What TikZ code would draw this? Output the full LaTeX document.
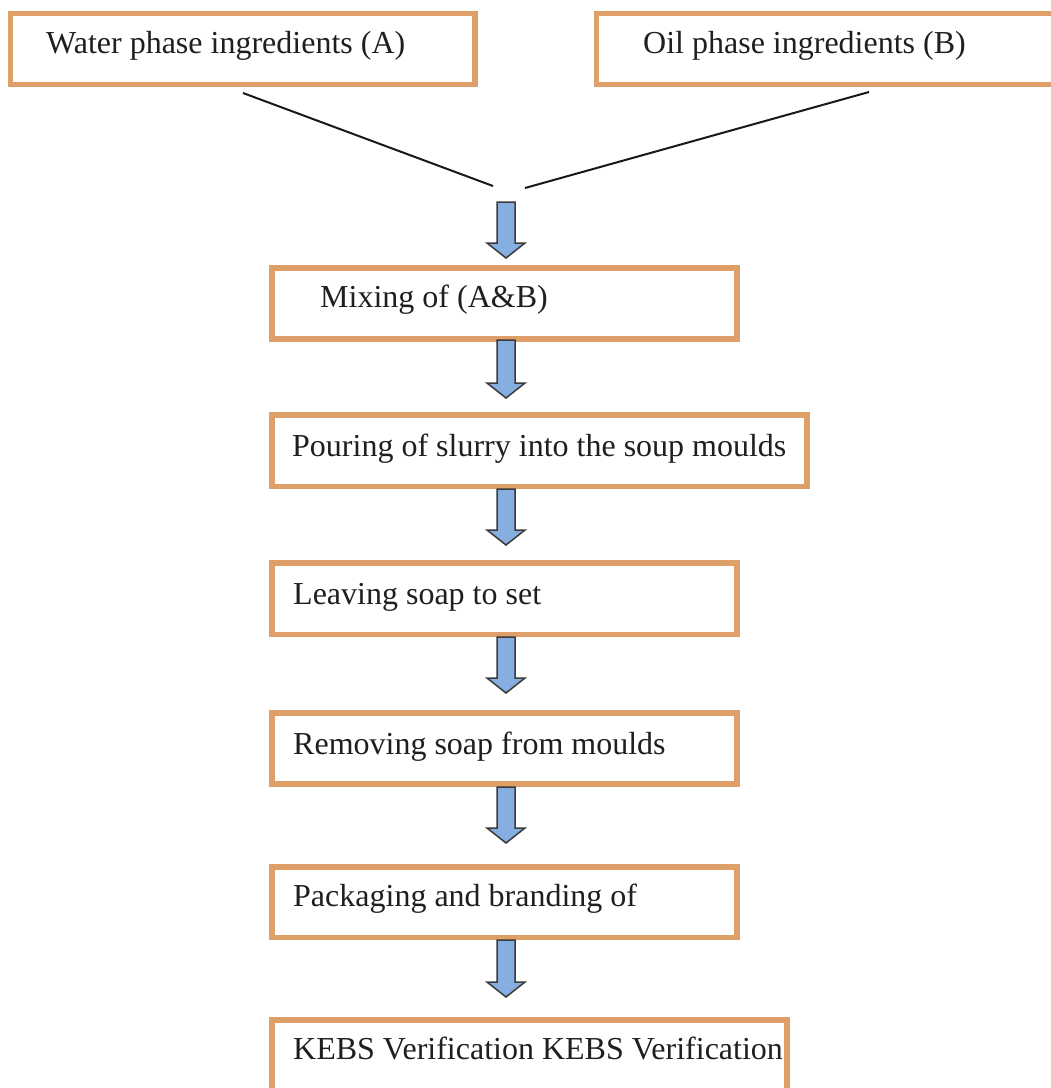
\documentclass[tikz,border=0pt]{standalone}
\usepackage{fontspec}
\setmainfont{Liberation Serif}
\definecolor{boxorange}{HTML}{DF9F68}
\definecolor{arrowblue}{HTML}{86AEE0}
\definecolor{arrowline}{HTML}{3A3A3A}
\newcommand{\blockarrow}[3]{% x, top, tip
  \draw[barrow] (#1-9,#2) -- (#1+9,#2) -- (#1+9,#3-15) -- (#1+19,#3-15) -- (#1,#3) -- (#1-19,#3-15) -- (#1-9,#3-15) -- cycle;}
\begin{document}
\begin{tikzpicture}[x=1pt,y=-1pt,
  box/.style={draw=boxorange, line width=5.5pt, inner sep=0pt, outer sep=0pt, anchor=north west},
  lbl/.style={anchor=base west, inner sep=0pt, text=black!88, font=\fontsize{32}{38}\selectfont},
  barrow/.style={draw=arrowline, fill=arrowblue, line width=1.5pt, line join=miter},
  conn/.style={draw=black!90, line width=2pt}]
\fill[white] (0,0) rectangle (1051,1088);
\clip (0,0) rectangle (1051,1088);
% boxes
\node[box, minimum width=464.5pt, minimum height=71pt] (a) at (10.5,13.5) {};
\node[box, minimum width=500pt, minimum height=71pt] (b) at (596.5,13.5) {};
\node[box, minimum width=465pt, minimum height=71pt] (mix) at (272,268) {};
\node[box, minimum width=535pt, minimum height=71.5pt] (pour) at (272,415) {};
\node[box, minimum width=465pt, minimum height=71.5pt] (leave) at (272,563) {};
\node[box, minimum width=465pt, minimum height=71pt] (remove) at (272,713) {};
\node[box, minimum width=465pt, minimum height=70.5pt] (pack) at (272,867) {};
\node[box, minimum width=515pt, minimum height=100pt] (kebs) at (272,1020) {};
% labels
\node[lbl] (ta) at (46,53) {Water phase ingredients (A)};
\node[lbl] (tb) at (643,53) {Oil phase ingredients (B)};
\node[lbl] (tmix) at (320,307) {Mixing of (A\&B)};
\node[lbl] (tpour) at (292,456) {Pouring of slurry into the soup moulds};
\node[lbl] (tleave) at (293,604) {Leaving soap to set};
\node[lbl] (tremove) at (293,754) {Removing soap from moulds};
\node[lbl] (tpack) at (293,906) {Packaging and branding of};
\node[lbl] (tkebs) at (293,1059) {KEBS Verification KEBS Verification};
% converging lines
\coordinate (a1) at (243,93);
\coordinate (a2) at (493,186);
\coordinate (b1) at (869,92);
\coordinate (b2) at (525,188);
\draw[conn] (a1) -- (a2);
\draw[conn] (b1) -- (b2);
% block arrows
\blockarrow{506}{202}{258}
\blockarrow{506}{340}{398}
\blockarrow{506}{489}{545}
\blockarrow{506}{637}{693}
\blockarrow{506}{787}{843}
\blockarrow{506}{940}{997}
\end{tikzpicture}
\end{document}
